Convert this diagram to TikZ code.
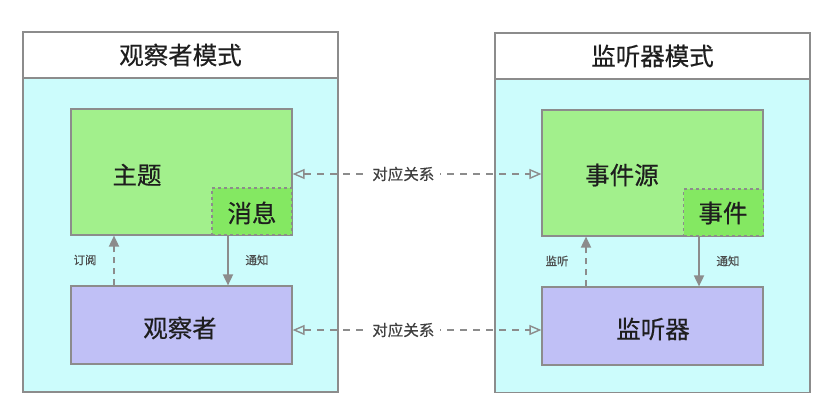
\documentclass[tikz,border=0pt]{standalone}
\usepackage{fontspec}
\setmainfont{Noto Sans CJK SC}[FakeBold=0.5]
\newfontfamily\cjkheavy{Noto Sans CJK SC}[FakeBold=0.5]
\usetikzlibrary{arrows.meta}
\definecolor{panelbg}{HTML}{CCFCFC}
\definecolor{edge}{HTML}{8C8C8C}
\definecolor{greenbox}{HTML}{A2F08C}
\definecolor{greenmsg}{HTML}{84E862}
\definecolor{purplebox}{HTML}{C0C0F6}
\definecolor{txt}{HTML}{1E1E1E}
\tikzset{
  x=1pt,y=-1pt,
  panel/.style={draw=edge, line width=1.2pt, fill=panelbg, minimum width=315pt, minimum height=360pt, inner sep=0pt},
  titleband/.style={draw=edge, line width=1.2pt, fill=white, minimum width=315pt, minimum height=46pt, inner sep=0pt, font=\fontsize{24.5}{27}\selectfont, text=txt},
  gbox/.style={draw=edge, line width=1.2pt, fill=greenbox, minimum width=221pt, minimum height=126pt, inner sep=0pt},
  pbox/.style={draw=edge, line width=1.2pt, fill=purplebox, minimum width=221pt, minimum height=78pt, inner sep=0pt},
  mbox/.style={draw=edge, line width=1.2pt, dashed, fill=greenmsg, minimum width=80pt, minimum height=47pt, inner sep=0pt},
  bigtext/.style={font=\fontsize{24.5}{27}\selectfont, text=txt, inner sep=0pt},
  smalltext/.style={font=\fontsize{11.5}{13}\selectfont, text=txt!80, inner sep=0pt},
  midtext/.style={font=\cjkheavy\fontsize{15.5}{17}\selectfont, text=txt!85, fill=white, inner xsep=6pt, inner ysep=2pt},
  notify/.style={draw=edge, line width=1.8pt, -{Triangle[width=10pt,length=11pt]}},
  subscribe/.style={draw=edge, line width=1.8pt, dash pattern=on 6pt off 5pt, -{Triangle[width=10pt,length=11pt]}},
  corresp/.style={draw=edge, line width=1.4pt, dash pattern=on 7pt off 6pt, {Triangle[open,width=10pt,length=12pt]}-{Triangle[open,width=10pt,length=12pt]}},
}
\begin{document}
\begin{tikzpicture}
\useasboundingbox (0,0) rectangle (827,415);
% left panel
\node[panel] (lp) at (180.5,212) {};
\node[titleband] (lt) at (180.5,55) {观察者模式};
\node[gbox] (subj) at (181.5,172) {};
\node[mbox] (msg) at (252,211.5) {};
\node[pbox] (obs) at (181.5,325) {};
\node[bigtext] (subjt) at (137,175) {主题};
\node[bigtext] (msgt) at (252,213) {消息};
\node[bigtext] (obst) at (180,328) {观察者};
% right panel
\node[panel] (rp) at (652.5,212.5) {};
\node[titleband] (rt) at (652.5,56) {监听器模式};
\node[gbox] (src) at (652.5,173) {};
\node[mbox] (evt) at (723.5,212.5) {};
\node[pbox] (lis) at (652.5,326) {};
\node[bigtext] (srct) at (622,175) {事件源};
\node[bigtext] (evtt) at (723,213) {事件};
\node[bigtext] (list) at (653,329) {监听器};
% vertical arrows left
\coordinate (c1) at (114,0);
\coordinate (c2) at (228,0);
\draw[subscribe] (c1 |- obs.north) -- (c1 |- subj.south);
\draw[notify] (c2 |- subj.south) -- (c2 |- obs.north);
\node[smalltext] (l1) at (85,260) {订阅};
\node[smalltext] (l2) at (257,260) {通知};
% vertical arrows right
\coordinate (c3) at (586,0);
\coordinate (c4) at (699,0);
\draw[subscribe] (c3 |- lis.north) -- (c3 |- src.south);
\draw[notify] (c4 |- src.south) -- (c4 |- lis.north);
\node[smalltext] (l3) at (557,261) {监听};
\node[smalltext] (l4) at (728,261) {通知};
% correspondence
\coordinate (r1) at (0,174);
\coordinate (r2) at (0,330);
\draw[corresp] (r1 -| subj.east) -- (r1 -| src.west) node[midtext, pos=0.445] (m1) {对应关系};
\draw[corresp] (r2 -| obs.east) -- (r2 -| lis.west) node[midtext, pos=0.445] (m2) {对应关系};
\end{tikzpicture}
\end{document}
